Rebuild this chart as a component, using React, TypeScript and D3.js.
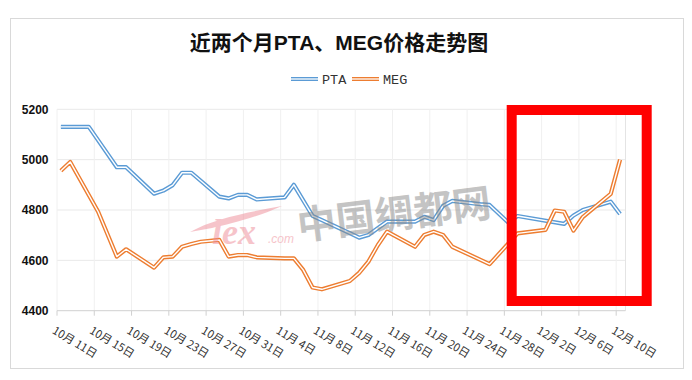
import React from "react";
import * as d3 from "d3";

const title = "近两个月PTA、MEG价格走势图";
const seriesNames = ["PTA", "MEG"];
const seriesColors = ["#5b9bd5", "#ed7d31"];

const ptaDates = ["10-11","10-14","10-17","10-18","10-21","10-22","10-23","10-24","10-25","10-28","10-29","10-30","10-31","11-01","11-04","11-05","11-07","11-08","11-11","11-12","11-13","11-15","11-18","11-19","11-20","11-21","11-22","11-25","11-26","11-28","11-29","12-04","12-05","12-06","12-09","12-10"];
const ptaValues = [5130,5130,4970,4970,4865,4877,4899,4948,4948,4853,4846,4860,4860,4842,4850,4900,4777,4760,4708,4690,4701,4754,4754,4773,4760,4816,4836,4823,4820,4750,4776,4745,4778,4800,4833,4784];

const megDates = ["10-11","10-12","10-15","10-17","10-18","10-21","10-22","10-23","10-24","10-25","10-26","10-28","10-29","10-30","10-31","11-01","11-04","11-05","11-06","11-07","11-08","11-11","11-12","11-13","11-14","11-15","11-18","11-19","11-20","11-21","11-22","11-26","11-29","12-02","12-03","12-04","12-05","12-06","12-09","12-10"];
const megValues = [4956,4991,4793,4615,4644,4571,4612,4615,4654,4665,4674,4681,4615,4621,4621,4612,4608,4608,4562,4492,4485,4518,4550,4595,4660,4714,4654,4701,4714,4701,4654,4585,4707,4721,4798,4793,4718,4772,4864,5000];

const yTicks = [4400, 4600, 4800, 5000, 5200];
const xTickDates = ["10-11","10-15","10-19","10-23","10-27","10-31","11-04","11-08","11-12","11-16","11-20","11-24","11-28","12-02","12-06","12-10"];

const YEAR = 2019;
const parseDay = (s: string, h = 0) => {
  const [m, d] = s.split("-").map(Number);
  return new Date(YEAR, m - 1, d, h, 0);
};

export default function App() {
  const W = 692, H = 380;
  const plot = { left: 57, right: 625.5, top: 109.3, bottom: 310.7 };

  const x = d3.scaleTime()
    .domain([new Date(YEAR, 9, 11), new Date(YEAR, 11, 11)])
    .range([plot.left, plot.right]);
  const y = d3.scaleLinear().domain([4400, 5200]).range([plot.bottom, plot.top]);

  const line = d3.line<{ date: Date; v: number }>()
    .x(d => x(d.date))
    .y(d => y(d.v));

  const pta = ptaDates.map((s, i) => ({ date: parseDay(s, 10), v: ptaValues[i] }));
  const meg = megDates.map((s, i) => ({ date: parseDay(s, 10), v: megValues[i] }));
  const series = [pta, meg];

  const labelFmt = (s: string) => {
    const [m, d] = s.split("-").map(Number);
    return `${m}月 ${d}日`;
  };

  const cjk = "'Noto Sans CJK SC', 'Noto Sans', sans-serif";

  return (
    <svg width={W} height={H} style={{ position: "absolute", left: 0, top: 0, background: "#fff" }}>
      <rect x={0} y={0} width={W} height={H} fill="#fff" />
      <rect x={10.5} y={18.5} width={673} height={350} fill="#fff" stroke="#d9d9d9" strokeWidth={1} />

      <text x={339} y={50} textAnchor="middle" fontFamily={"'Liberation Sans', " + cjk} fontWeight="bold" fontSize={21} fill="#111">
        {title}
      </text>

      {/* legend */}
      {seriesNames.map((n, i) => {
        const lx = [291, 352][i];
        return (
          <g key={n}>
            <line x1={lx} x2={lx + 27} y1={79} y2={79} stroke={seriesColors[i]} strokeWidth={4} />
            <line x1={lx} x2={lx + 27} y1={79} y2={79} stroke="#fff" strokeWidth={1.3} />
            <text x={lx + 31} y={84} fontFamily="'Liberation Mono', monospace" fontSize={13.5} fill="#333">{n}</text>
          </g>
        );
      })}

      {/* gridlines */}
      {yTicks.filter(t => t !== 4400).map(t => (
        <line key={"gy" + t} x1={plot.left} x2={plot.right} y1={y(t)} y2={y(t)} stroke="#e9e9e9" strokeWidth={1} />
      ))}
      {xTickDates.map(s => (
        <line key={"gx" + s} x1={x(parseDay(s))} x2={x(parseDay(s))} y1={plot.top} y2={plot.bottom} stroke="#f0f0f0" strokeWidth={1} />
      ))}
      <line x1={plot.right} x2={plot.right} y1={plot.top} y2={plot.bottom} stroke="#e4e4e4" strokeWidth={1} />

      {/* x axis */}
      <line x1={plot.left} x2={plot.right} y1={plot.bottom} y2={plot.bottom} stroke="#d0d0d0" strokeWidth={1} />
      {xTickDates.map(s => {
        const tx = x(parseDay(s));
        return (
          <g key={"xt" + s}>
            <line x1={tx} x2={tx} y1={plot.bottom} y2={plot.bottom + 5} stroke="#d0d0d0" strokeWidth={1} />
            <text transform={`translate(${tx - 5.5},${plot.bottom + 22}) rotate(31)`} fontFamily={cjk} fontSize={11.2} fill="#333">
              {labelFmt(s)}
            </text>
          </g>
        );
      })}

      {/* y labels */}
      {yTicks.map(t => (
        <text key={"yl" + t} x={48.5} y={y(t) + 4.3} textAnchor="end" fontFamily="'Liberation Sans', Arial, sans-serif" fontWeight="bold" fontSize={12} fill="#111">
          {t}
        </text>
      ))}

      {/* series: double lines */}
      {series.map((s, i) => (
        <g key={"s" + i}>
          <path d={line(s) || ""} fill="none" stroke={seriesColors[i]} strokeWidth={4.2} strokeLinejoin="round" strokeLinecap="butt" />
          <path d={line(s) || ""} fill="none" stroke="#fff" strokeWidth={1.4} strokeLinejoin="round" strokeLinecap="butt" />
        </g>
      ))}

      {/* watermark */}
      <g opacity={0.5}>
        <path d="M190,232 C215,218 250,212 282,206 C255,218 230,224 212,228 Z" fill="#ef8a96" />
        <text x={212} y={244} fontFamily="'Liberation Serif', serif" fontStyle="italic" fontWeight="bold" fontSize={36} fill="#ef8a96">lex</text>
        <text x={268} y={243} fontFamily="'Liberation Sans', sans-serif" fontStyle="italic" fontSize={12} fill="#ef8a96">.com</text>
        <text transform="translate(299,240) rotate(-7)" fontFamily={cjk} fontWeight="bold" fontSize={39} fill="#8a8a8a">中国绸都网</text>
      </g>

      {/* red highlight box */}
      <rect x={511.7} y={110} width={135} height={191} fill="none" stroke="#ff0000" strokeWidth={10} />
    </svg>
  );
}
